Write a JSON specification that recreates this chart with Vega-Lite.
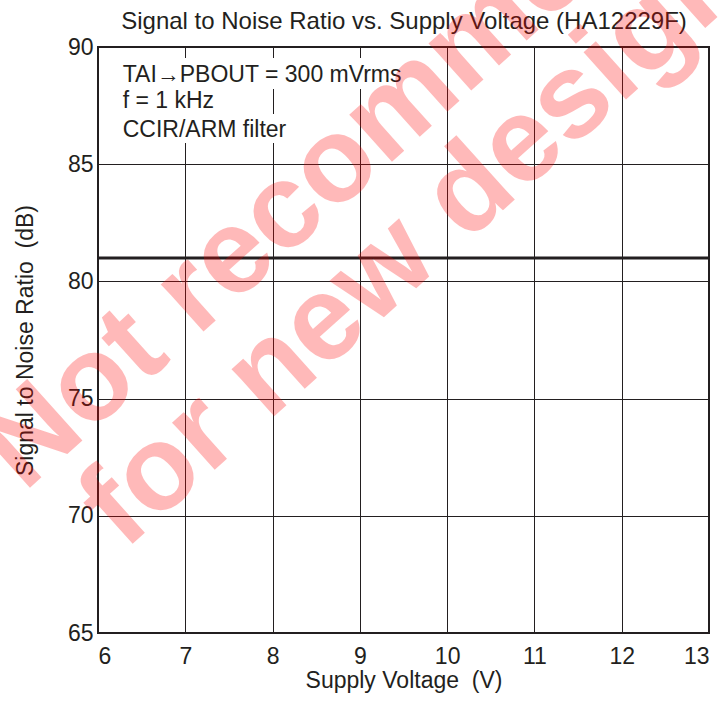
{
  "$schema": "https://vega.github.io/schema/vega-lite/v6.json",
  "width": 611,
  "height": 586,
  "autosize": {"type": "none"},
  "padding": {"left": 98, "top": 47, "right": 18, "bottom": 73},
  "background": "white",
  "config": {
    "view": {"stroke": "#231f20", "strokeWidth": 2},
    "axis": {
      "labelFont": "Liberation Sans",
      "titleFont": "Liberation Sans",
      "labelFontSize": 23,
      "titleFontSize": 23,
      "titleFontWeight": "normal",
      "labelColor": "#231f20",
      "titleColor": "#231f20",
      "gridColor": "#231f20",
      "gridOpacity": 1,
      "gridWidth": 1,
      "domain": false,
      "ticks": false
    }
  },
  "datasets": {
    "snr": [
      {"voltage": 6, "snr": 81},
      {"voltage": 13, "snr": 81}
    ],
    "notes": [
      {"text": "TAI→PBOUT = 300 mVrms", "x": 6.283, "y": 88.52, "x1": 6.19, "x2": 9.62, "y1": 89.53, "y2": 88.21},
      {"text": "f = 1 kHz", "x": 6.283, "y": 87.4, "x1": 6.19, "x2": 7.38, "y1": 88.21, "y2": 87.14},
      {"text": "CCIR/ARM filter", "x": 6.283, "y": 86.17, "x1": 6.19, "x2": 8.23, "y1": 87.14, "y2": 85.9}
    ],
    "stamp": [
      {"text": "Not recommended", "x": 9.36, "y": 87.15},
      {"text": "for new design", "x": 9.63, "y": 81.72}
    ]
  },
  "resolve": {"axis": {"x": "independent"}},
  "encoding": {
    "x": {
      "type": "quantitative",
      "scale": {"domain": [6, 13], "nice": false, "zero": false}
    },
    "y": {
      "type": "quantitative",
      "scale": {"domain": [65, 90], "nice": false, "zero": false},
      "axis": {"title": "Signal to Noise Ratio \u00a0(dB)", "values": [65, 70, 75, 80, 85, 90], "labelPadding": 5, "titlePadding": 30}
    }
  },
  "layer": [
    {
      "data": {"name": "notes"},
      "mark": {"type": "rect", "fill": "white", "stroke": null},
      "encoding": {
        "x": {"field": "x1", "axis": {"title": "Supply Voltage \u00a0(V)", "values": [6, 7, 8, 9, 10, 11, 12, 13], "labelPadding": 12, "titlePadding": 1}},
        "x2": {"field": "x2"},
        "y": {"field": "y1"},
        "y2": {"field": "y2"}
      }
    },
    {
      "data": {"name": "notes"},
      "mark": {"type": "text", "align": "left", "baseline": "alphabetic", "font": "Liberation Sans", "fontSize": 23, "color": "#231f20"},
      "encoding": {
        "x": {"field": "x", "axis": null},
        "y": {"field": "y"},
        "text": {"field": "text"}
      }
    },
    {
      "data": {"name": "snr"},
      "mark": {"type": "line", "color": "#231f20", "strokeWidth": 3},
      "encoding": {
        "x": {"field": "voltage", "axis": null},
        "y": {"field": "snr"}
      }
    },
    {
      "data": {"name": "stamp"},
      "mark": {"type": "text", "align": "center", "baseline": "middle", "font": "Liberation Sans", "fontWeight": "bold", "fontSize": 120, "angle": -42, "color": "#ff0000", "opacity": 0.27},
      "encoding": {
        "x": {"field": "x", "axis": {"orient": "top", "title": "Signal to Noise Ratio vs. Supply Voltage (HA12229F)", "titleFontSize": 24, "labels": false, "grid": false, "ticks": false, "domain": false, "titleBaseline": "alphabetic", "titlePadding": 19}},
        "y": {"field": "y"},
        "text": {"field": "text"}
      }
    }
  ]
}
